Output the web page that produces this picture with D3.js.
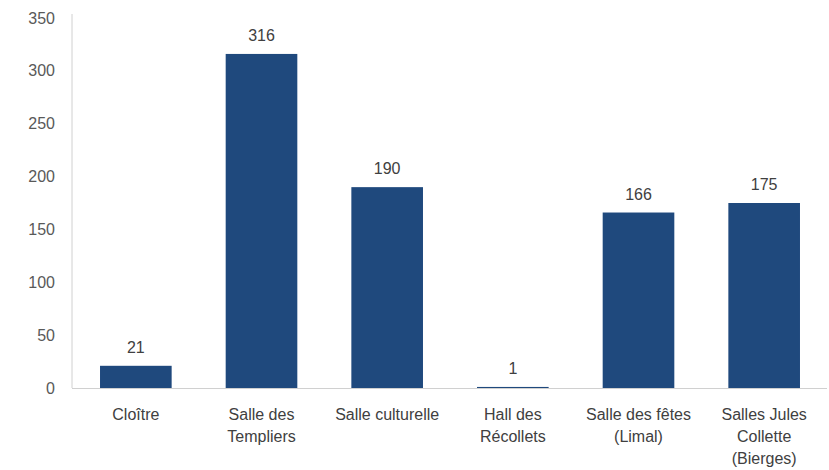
<!DOCTYPE html>
<html><head><meta charset="utf-8">
<script src="https://cdn.jsdelivr.net/npm/d3@7/dist/d3.min.js"></script>
<style>body{margin:0;background:#fff}</style>
</head><body>
<svg id="c" width="829" height="470"></svg>
<script>
const categories = [["Cloître"],["Salle des","Templiers"],["Salle culturelle"],["Hall des","Récollets"],["Salle des fêtes","(Limal)"],["Salles Jules","Collette","(Bierges)"]];
const values = [21,316,190,1,166,175];
const yTicks = [0,50,100,150,200,250,300,350];

const svg = d3.select("#c");
const font = "'Liberation Sans', Arial, sans-serif";
const fs = "16px";
const x = d3.scaleBand().domain(d3.range(categories.length)).range([73,827]).paddingInner(0.43).paddingOuter(0.215);
const y = d3.scaleLinear().domain([0,350]).range([388,18]);

const ya = svg.append("g").attr("transform","translate(72,0)")
  .call(d3.axisLeft(y).tickValues(yTicks).tickSize(0).tickPadding(17));
ya.select(".domain").attr("stroke","#d0d0d0").attr("d","M0,14V388");
ya.selectAll("text").attr("font-family",font).attr("font-size",fs).attr("fill","#595959");

svg.append("g").selectAll("rect").data(values).join("rect")
  .attr("x",(d,i)=>x(i)).attr("width",x.bandwidth())
  .attr("y",d=>y(d)).attr("height",d=>y(0)-y(d)).attr("fill","#1f497d");

const xa = svg.append("g").attr("transform","translate(0,388)")
  .call(d3.axisBottom(x).tickSize(0).tickFormat(""));
xa.select(".domain").attr("stroke","#d0d0d0").attr("d","M72,0.5H827");

svg.append("g").selectAll("text").data(values).join("text")
  .attr("x",(d,i)=>x(i)+x.bandwidth()/2).attr("y",d=>y(d)-13)
  .attr("text-anchor","middle").attr("font-family",font).attr("font-size",fs).attr("fill","#404040")
  .text(d=>d);

const cl = svg.append("g").selectAll("text").data(categories).join("text")
  .attr("x",(d,i)=>x(i)+x.bandwidth()/2).attr("y",420)
  .attr("text-anchor","middle").attr("font-family",font).attr("font-size",fs).attr("fill","#404040");
cl.selectAll("tspan").data(d=>d).join("tspan")
  .attr("x",function(){return this.parentNode.getAttribute("x");})
  .attr("dy",(d,i)=>i?22:0).text(d=>d);
</script>
</body></html>
